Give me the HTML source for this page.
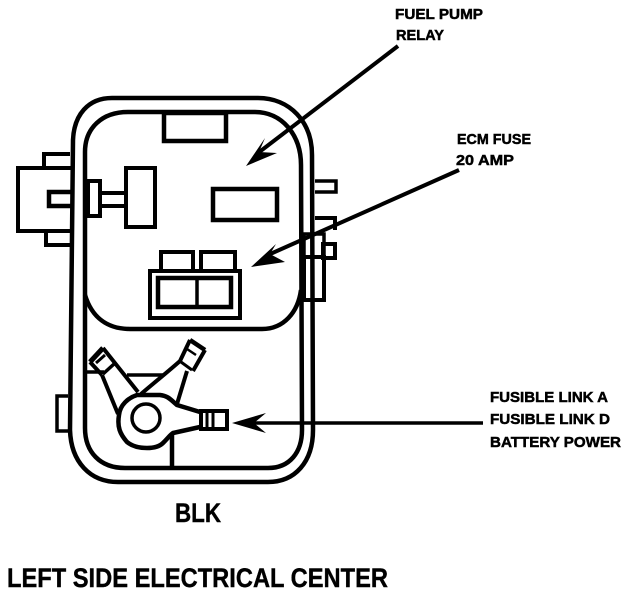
<!DOCTYPE html>
<html>
<head>
<meta charset="utf-8">
<style>
html,body{margin:0;padding:0;background:#fff}
svg{display:block}
text{font-family:"Liberation Sans",sans-serif;font-weight:bold;fill:#000}
.s{font-size:15px;stroke:#000;stroke-width:.5px}
</style>
</head>
<body>
<svg width="626" height="608" viewBox="0 0 626 608" xmlns="http://www.w3.org/2000/svg">
<rect width="626" height="608" fill="#fff"/>
<g fill="none" stroke="#000" stroke-width="4" stroke-linejoin="miter">
<!-- outer body -->
<path d="M73 140 C74 115 88 98 112 98 L258 98 C290 98 312 122 312 155 L313 430 C313 462 295 482 268 482 L118 482 C90 482 71 462 70 430 Z" stroke-width="4.5"/>
<!-- inner wall -->
<path d="M85 152 C85 128 102 112 128 112 L255 112 C282 112 301 135 301 165 L302 430 C302 452 290 468 268 468 L125 468 C100 468 85 452 85 428 Z" stroke-width="4.5"/>
<!-- upper compartment bottom -->
<path d="M85 295 C92 318 108 329 130 329 L262 329 C284 329 298 312 301 290" stroke-width="4.5"/>
<!-- components upper -->
<rect x="164" y="113" width="62" height="28" stroke-width="4.5"/>
<rect x="126" y="168" width="29" height="59"/>
<rect x="88" y="181" width="12" height="35"/>
<path d="M100 193 H125 M100 206 H125"/>
<rect x="213" y="189" width="64" height="31" stroke-width="4.5"/>
<!-- left connector -->
<path d="M72 168 H18 V231 H70"/>
<path d="M44 167 V154 H70"/>
<path d="M46 232 V245 H70"/>
<path d="M71 192 H49 V206 H71" stroke-width="4.5"/>
<!-- fuse block -->
<rect x="150" y="271" width="90" height="47" stroke-width="4"/>
<rect x="158" y="278" width="73" height="29" stroke-width="4.5"/>
<path d="M197 278 V307" stroke-width="3.5"/>
<path d="M161 270 V252 H193 V270"/>
<path d="M201 270 V252 H235 V270"/>
<!-- right tabs -->
<path d="M315 181 H336 V192 H315" stroke-width="3.5"/>
<path d="M315 218 H335 V230"/>
<rect x="323" y="244" width="12" height="14"/>
<rect x="304" y="234" width="20" height="23" stroke-width="3.5"/>
<rect x="304" y="257" width="20" height="43" stroke-width="4"/>
<!-- lower: left tab -->
<path d="M68 396 H57 V431 H68" stroke-width="3.5"/>
<!-- fusible link body -->
<path d="M200 412 L177 405 C170 399 168 396 160 395 L137 395 C128 398 120 405 119 415 C117 427 120 434 127 442 C133 447 140 448 147 448 C155 448 160 446 163 443 C168 438 170 435 173 433 L200 427" stroke-width="4.5"/>
<circle cx="146" cy="418" r="14" stroke-width="3.5"/>
<rect x="201" y="411" width="26" height="18" stroke-width="4"/>
<path d="M207 411 V429 M213 411 V429" stroke-width="3"/>
<path d="M172 433 V468" stroke-width="4.5"/>
<!-- left terminal -->
<path d="M90 362 L103 348" stroke-width="5"/>
<path d="M90 362 L102 375" stroke-width="4"/>
<path d="M103 348 L138 392" stroke-width="4"/>
<path d="M96 363 L105 355" stroke-width="3"/>
<path d="M103 374 L114 364" stroke-width="3.5"/>
<path d="M87 372 H104" stroke-width="3.5"/>
<path d="M102 375 L118 414" stroke-width="4"/>
<path d="M127 375 H164" stroke-width="3.5"/>
<!-- right terminal -->
<path d="M190 340 L205 350" stroke-width="4.5"/>
<path d="M190 340 L180 361 C170 370 155 382 141 394" stroke-width="4"/>
<path d="M205 350 L193 371" stroke-width="4"/>
<path d="M187 349 L196 355" stroke-width="2.5"/>
<path d="M181 362 L192 370" stroke-width="3"/>
<path d="M187 371 L177 404" stroke-width="4"/>
</g>
<!-- arrows -->
<g stroke="#000" fill="#000">
<path d="M398 46 L258 153" stroke-width="4" fill="none"/>
<path d="M246 166 L265 138 L259 152 L277 153 Z" stroke="none"/>
<path d="M459 170 L268 255" stroke-width="4" fill="none"/>
<path d="M251 267 L276 244 L270 254 L285 262 Z" stroke="none"/>
<path d="M483 423 L250 423" stroke-width="3.5" fill="none"/>
<path d="M232 423 L266 413 L254 423 L266 433 Z" stroke="none"/>
</g>
<!-- labels -->
<text class="s" x="395" y="19" textLength="88" lengthAdjust="spacingAndGlyphs">FUEL PUMP</text>
<text class="s" x="396" y="40" textLength="48" lengthAdjust="spacingAndGlyphs">RELAY</text>
<text class="s" x="457" y="144" textLength="74" lengthAdjust="spacingAndGlyphs">ECM FUSE</text>
<text class="s" x="456" y="165" textLength="58" lengthAdjust="spacingAndGlyphs">20 AMP</text>
<text class="s" x="490" y="402" textLength="118" lengthAdjust="spacingAndGlyphs">FUSIBLE LINK A</text>
<text class="s" x="490" y="424" textLength="120" lengthAdjust="spacingAndGlyphs">FUSIBLE LINK D</text>
<text class="s" x="490" y="447" textLength="131" lengthAdjust="spacingAndGlyphs">BATTERY POWER</text>
<text x="175" y="522" font-size="27" stroke="#000" stroke-width=".4" textLength="46" lengthAdjust="spacingAndGlyphs">BLK</text>
<text x="7" y="587" font-size="27" stroke="#000" stroke-width=".4" textLength="381" lengthAdjust="spacingAndGlyphs">LEFT SIDE ELECTRICAL CENTER</text>
</svg>
</body>
</html>
